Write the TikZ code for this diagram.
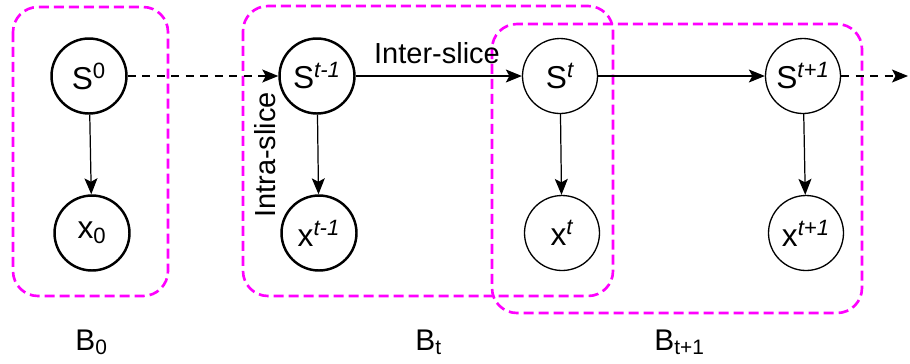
\documentclass[tikz,border=0pt]{standalone}
\usepackage{fontspec}
\setmainfont{Liberation Sans}
\usetikzlibrary{arrows.meta}
\definecolor{slicepink}{RGB}{255,0,255}
\tikzset{
  state/.style={circle, draw, line width=0.75pt, minimum size=1.5cm, inner sep=0pt, font=\fontsize{18}{22}\selectfont},
  boldstate/.style={state, line width=1.4pt},
  slice/.style={draw=slicepink, line width=1.5pt, dash pattern=on 0.2cm off 0.1cm, rounded corners=0.5cm},
  link/.style={-{Stealth[length=0.32cm, width=0.26cm, inset=0.07cm]}, line width=0.7pt},
  skip/.style={link, dash pattern=on 0.16cm off 0.13cm},
  lbl/.style={inner sep=0pt, font=\fontsize{16.5}{20}\selectfont},
  blbl/.style={inner sep=0pt, anchor=base west, font=\fontsize{17}{20}\selectfont}
}
\begin{document}
\begin{tikzpicture}[x=0.02cm, y=-0.02cm]
\useasboundingbox (0,0) rectangle (910,363);
% slices
\draw[slice] (13,7) rectangle (168,296);
\draw[slice] (243,6) rectangle (613,296);
\draw[slice] (492,24) rectangle (862,313);
% states
\node[boldstate] (s0) at (89,76) {S\textsuperscript{0}};
\node[boldstate] (x0) at (92,233) {x\textsubscript{0}};
\node[boldstate] (sp) at (317,76) {S\textsuperscript{\itshape t-1}};
\node[boldstate] (xp) at (319,233) {x\textsuperscript{\itshape t-1}};
\node[state] (st) at (560,76) {S\textsuperscript{\itshape t}};
\node[state] (xt) at (562,233) {x\textsuperscript{\itshape t}};
\node[state] (sn) at (803,76) {S\textsuperscript{\itshape t+1}};
\node[state] (xn) at (806,233) {x\textsuperscript{\itshape t+1}};
\coordinate (more) at (908,76);
% labels
\node[lbl] (inter) at (437,53) {Inter-slice};
\node[lbl, rotate=90] (intra) at (265,155) {Intra-slice};
\node[blbl] (b0) at (75,350) {B\textsubscript{0}};
\node[blbl] (bt) at (415,350) {B\textsubscript{t}};
\node[blbl] (bn) at (654,350) {B\textsubscript{t+1}};
% edges
\draw[link] (s0) -- (x0);
\draw[link] (sp) -- (xp);
\draw[link] (st) -- (xt);
\draw[link] (sn) -- (xn);
\draw[skip] (s0) -- (sp);
\draw[link] (sp) -- (st);
\draw[link] (st) -- (sn);
\draw[skip] (sn) -- (more);
\end{tikzpicture}
\end{document}
